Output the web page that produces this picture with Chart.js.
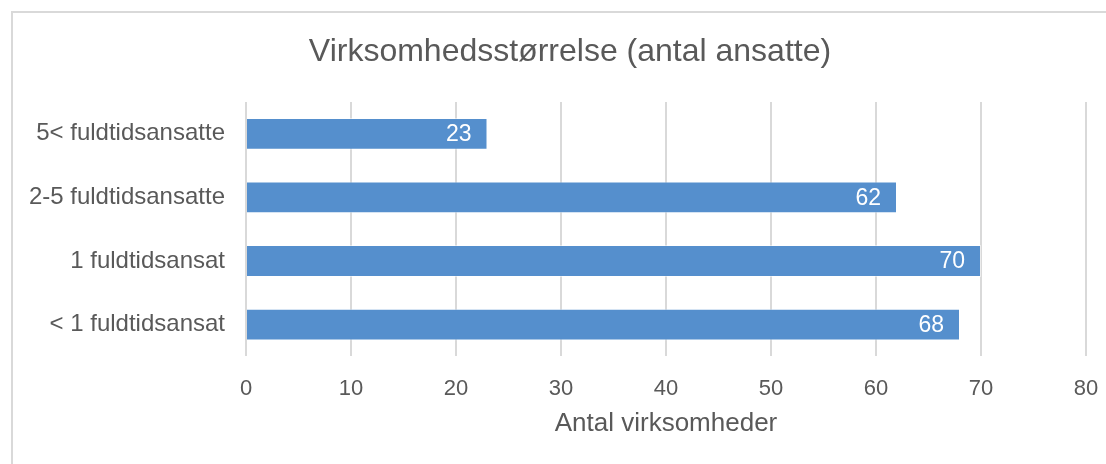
<!DOCTYPE html>
<html>
<head>
<meta charset="utf-8">
<script src="https://cdn.jsdelivr.net/npm/chart.js@4/dist/chart.umd.min.js"></script>
<style>
  body { margin: 0; background: #fff; overflow: hidden; }
  #frame { position: absolute; left: 11px; top: 11px; width: 1200px; height: 600px; border: 2px solid #d9d9d9; }
  #c { position: absolute; left: 0; top: 0; }
</style>
</head>
<body>
<div id="frame"></div>
<canvas id="c" width="1106" height="464"></canvas>
<script>
var categories = ["5< fuldtidsansatte", "2-5 fuldtidsansatte", "1 fuldtidsansat", "< 1 fuldtidsansat"];
var counts = [23, 62, 70, 68];
var chartTitle = "Virksomhedsstørrelse (antal ansatte)";
var xTitle = "Antal virksomheder";
var xTicks = [0, 10, 20, 30, 40, 50, 60, 70, 80];

var FONT = "'Liberation Sans', Arial, sans-serif";
var GREY = "#595959";

// white value labels at the inner end of each bar
var barLabels = {
    id: 'barLabels',
    afterDatasetsDraw: function(chart) {
        var ctx = chart.ctx;
        var meta = chart.getDatasetMeta(0);
        ctx.save();
        ctx.font = "23px " + FONT;
        ctx.fillStyle = "#ffffff";
        ctx.textAlign = "right";
        ctx.textBaseline = "middle";
        meta.data.forEach(function(bar, i) {
            ctx.fillText(String(chart.data.datasets[0].data[i]), bar.x - 16, bar.y + 1);
        });
        ctx.restore();
    }
};

new Chart(document.getElementById("c"), {
    type: 'bar',
    data: {
        labels: categories,
        datasets: [{
            data: counts,
            backgroundColor: "#558fcd",
            borderColor: "rgba(255,255,255,0.5)",
            borderWidth: 1,
            barPercentage: 0.5,
            categoryPercentage: 1
        }]
    },
    options: {
        indexAxis: 'y',
        responsive: false,
        animation: false,
        // left padding pushes the title centre right, like the original
        layout: { padding: { left: 54, right: 20, top: 0, bottom: 15 } },
        plugins: {
            legend: { display: false },
            tooltip: { enabled: false },
            title: {
                display: true,
                text: chartTitle,
                color: GREY,
                font: { family: FONT, size: 32, weight: 'normal' },
                padding: { top: 33, bottom: 30.6 }
            }
        },
        scales: {
            x: {
                min: 0,
                max: 80,
                afterBuildTicks: function(scale) {
                    scale.ticks = xTicks.map(function(v) { return { value: v }; });
                },
                grid: { color: "#d9d9d9", lineWidth: 2, drawTicks: true, tickLength: 19, tickColor: "rgba(0,0,0,0)" },
                border: { display: false },
                ticks: { color: GREY, font: { family: FONT, size: 22 }, padding: 0 },
                title: {
                    display: true,
                    text: xTitle,
                    color: GREY,
                    font: { family: FONT, size: 26 },
                    padding: { top: 6, bottom: 10 }
                }
            },
            y: {
                grid: { display: false, drawTicks: false },
                border: { display: false },
                ticks: { color: GREY, font: { family: FONT, size: 24 }, padding: 21 },
                afterFit: function(scale) {
                    scale.width = 192;
                    // long labels run past the padded edge, so don't clip them
                    scale._computeLabelArea = function() { return undefined; };
                }
            }
        }
    },
    plugins: [barLabels]
});
</script>
</body>
</html>
